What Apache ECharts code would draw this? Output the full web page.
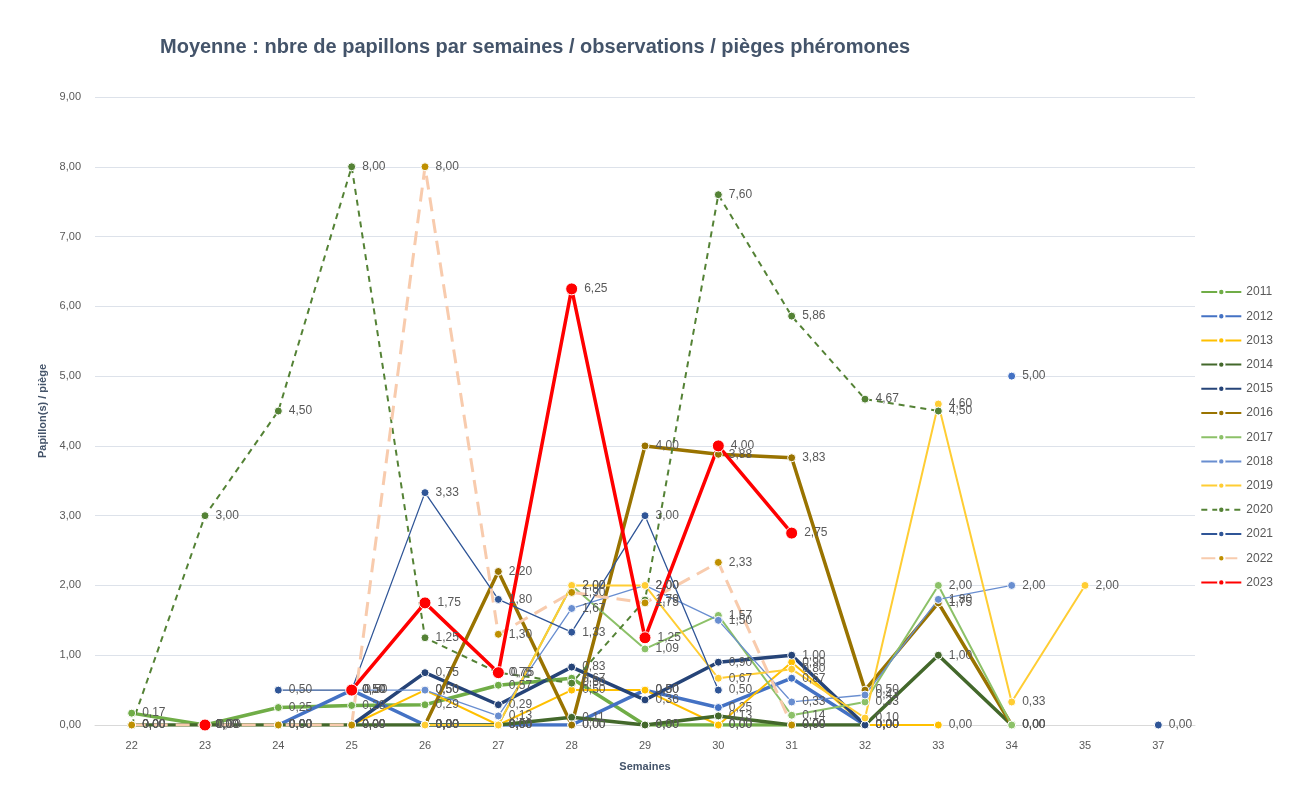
<!DOCTYPE html>
<html lang="fr">
<head>
    <meta charset="UTF-8">
    <title>Papillons</title>
    <style>
        * { padding: 0; margin: 0; }
        html, body { width: 100%; height: 100%; background: #fff; }
        #chart { width: 1290px; height: 807px; }
    </style>
</head>
<body>
    <div id="chart"></div>
    <script src="https://cdn.jsdelivr.net/npm/echarts@6/dist/echarts.min.js"></script>
    <script>
        // semaines (categories)
        const weeks = ['22', '23', '24', '25', '26', '27', '28', '29', '30', '31', '32', '33', '34', '35', '37'];

        // moyennes par annee, null = pas d'observation
        const y2011 = [0.17, 0, 0.25, 0.28, 0.29, 0.57, 0.67, 0, 0, 0, null, null, null, null, null];
        const y2012 = [null, null, 0, 0.5, 0, 0, 0, 0.5, 0.25, 0.67, 0, null, 5, null, null];
        const y2013 = [0, 0, 0, 0, 0.5, 0, 0.5, 0.5, 0, 0.9, 0, 0, null, null, null];
        const y2014 = [0, 0, 0, 0, 0, 0, 0.11, 0, 0.13, 0, 0, 1, 0, null, null];
        const y2015 = [null, null, null, 0, 0.75, 0.29, 0.83, 0.36, 0.9, 1, 0, null, null, null, null];
        const y2016 = [null, null, null, null, 0, 2.2, 0, 4, 3.88, 3.83, 0.5, 1.75, 0, null, null];
        const y2017 = [null, null, null, null, 0, 0, 2, 1.09, 1.57, 0.14, 0.33, 2, 0, null, null];
        const y2018 = [null, null, null, 0.5, 0.5, 0.13, 1.67, 2, 1.5, 0.33, 0.43, 1.8, 2, null, null];
        const y2019 = [null, null, null, null, 0, 0, 2, 2, 0.67, 0.8, 0.1, 4.6, 0.33, 2, null];
        const y2020 = [0, 3, 4.5, 8, 1.25, 0.75, 0.6, 1.79, 7.6, 5.86, 4.67, 4.5, null, null, null];
        const y2021 = [null, null, 0.5, 0.5, 3.33, 1.8, 1.33, 3, 0.5, null, null, null, null, null, 0];
        const y2022 = [0, 0, 0, 0, 8, 1.3, 1.9, 1.75, 2.33, 0, null, null, null, null, null];
        const y2023 = [null, 0, null, 0.5, 1.75, 0.75, 6.25, 1.25, 4, 2.75, null, null, null, null, null];

        const fmt = v => Number(v).toFixed(2).replace('.', ',');
        const font = '"Liberation Sans", Arial, sans-serif';

        // annee, donnees, couleur ligne, couleur point, epaisseur, type trait
        const defs = [
            ['2011', y2011, '#70AD47', '#70AD47', 3.5, 'solid'],
            ['2012', y2012, '#4472C4', '#4472C4', 3.5, 'solid'],
            ['2013', y2013, '#FFC000', '#FFC000', 2, 'solid'],
            ['2014', y2014, '#43682B', '#43682B', 3.5, 'solid'],
            ['2015', y2015, '#264478', '#264478', 3.5, 'solid'],
            ['2016', y2016, '#997300', '#997300', 3.5, 'solid'],
            ['2017', y2017, '#8CC168', '#8CC168', 2, 'solid'],
            ['2018', y2018, '#698ED0', '#698ED0', 1.3, 'solid'],
            ['2019', y2019, '#FFCD33', '#FFCD33', 2, 'solid'],
            ['2020', y2020, '#548235', '#548235', 2, [6, 5]],
            ['2021', y2021, '#2F5597', '#2F5597', 1.3, 'solid'],
            ['2022', y2022, '#F8CBAD', '#BF9000', 3, [14, 8]],
            ['2023', y2023, '#FF0000', '#FF0000', 3.5, 'solid']
        ];

        const series = defs.map(d => ({
            name: d[0],
            type: 'line',
            data: d[1],
            connectNulls: false,
            symbol: 'circle',
            symbolSize: d[0] === '2023' ? 12 : 8,
            showAllSymbol: true,
            lineStyle: { color: d[2], width: d[4], type: d[5] },
            itemStyle: { color: d[3], borderColor: '#fff', borderWidth: 1 },
            label: {
                show: true,
                position: 'right',
                distance: 6,
                fontFamily: font,
                fontSize: 12,
                color: '#595959',
                formatter: p => fmt(p.value)
            },
            emphasis: { disabled: true },
            animation: false
        }));

        const chart = echarts.init(document.getElementById('chart'));
        chart.setOption({
            backgroundColor: '#fff',
            title: {
                text: 'Moyenne : nbre de papillons par semaines / observations / pièges phéromones',
                left: 155,
                top: 32,
                textStyle: { fontFamily: font, fontSize: 20, fontWeight: 'bold', color: '#44546A' }
            },
            legend: {
                orient: 'vertical',
                right: 12,
                top: 281,
                itemWidth: 40,
                itemHeight: 8,
                itemGap: 12.2,
                textStyle: { fontFamily: font, fontSize: 12, color: '#595959' },
                data: defs.map(d => d[0])
            },
            grid: { left: 95, right: 95, top: 97, bottom: 82 },
            xAxis: {
                type: 'category',
                data: weeks,
                name: 'Semaines',
                nameLocation: 'middle',
                nameGap: 36,
                nameTextStyle: { fontFamily: font, fontSize: 11, fontWeight: 'bold', color: '#44546A' },
                axisLine: { lineStyle: { color: '#D9D9D9' } },
                axisTick: { show: false },
                axisLabel: { fontFamily: font, fontSize: 11, color: '#595959', margin: 15 }
            },
            yAxis: {
                type: 'value',
                min: 0,
                max: 9,
                interval: 1,
                name: 'Papillon(s) / piège',
                nameLocation: 'middle',
                nameGap: 44,
                nameTextStyle: { fontFamily: font, fontSize: 11, fontWeight: 'bold', color: '#44546A' },
                axisLabel: { fontFamily: font, fontSize: 11, color: '#595959', margin: 14, formatter: v => fmt(v) },
                splitLine: { lineStyle: { color: '#DDE2EA' } }
            },
            series: series
        });
    </script>
</body>
</html>
